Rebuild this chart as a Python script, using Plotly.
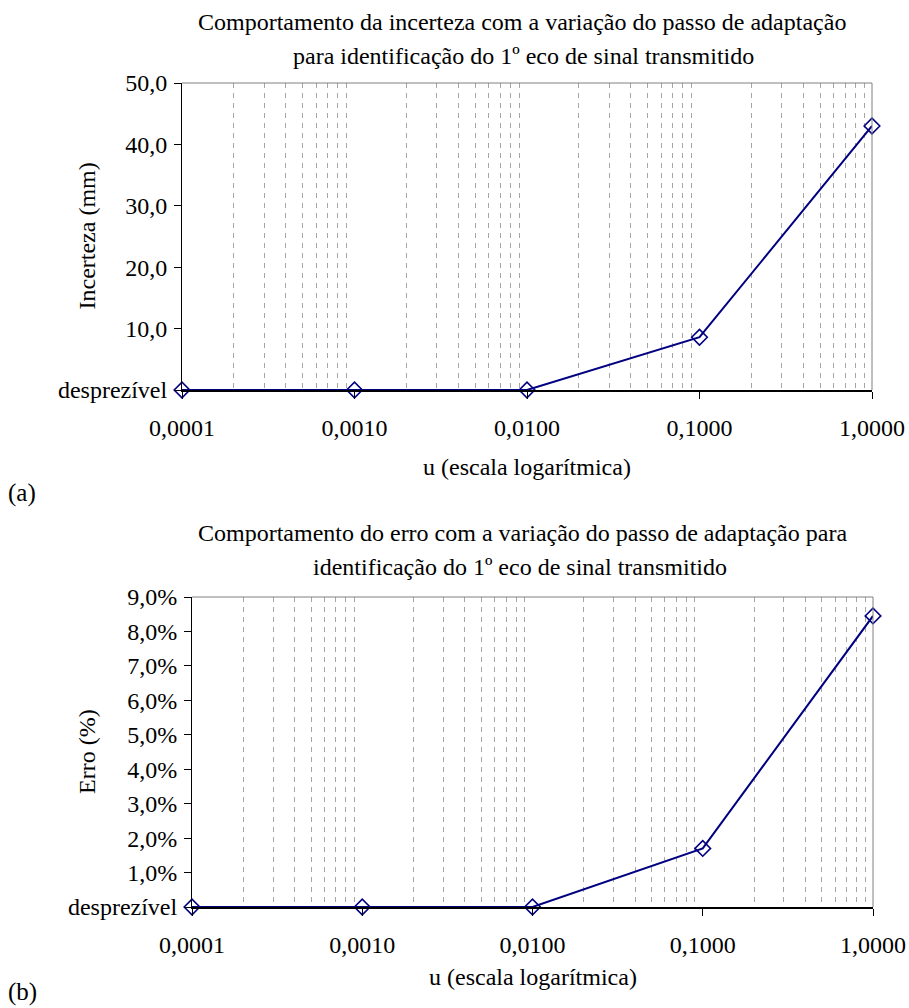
import plotly.graph_objects as go

# ---- data ----
u_values = [0.0001, 0.001, 0.01, 0.1, 1.0]
x_tick_vals = [0.0001, 0.001, 0.01, 0.1, 1.0]
x_tick_text = ["0,0001", "0,0010", "0,0100", "0,1000", "1,0000"]

incerteza_mm = [0.0, 0.0, 0.0, 8.6, 43.0]
inc_tick_vals = [0, 10, 20, 30, 40, 50]
inc_tick_text = ["desprezível", "10,0", "20,0", "30,0", "40,0", "50,0"]

erro_pct = [0.0, 0.0, 0.0, 1.7, 8.45]
erro_tick_vals = [0, 1, 2, 3, 4, 5, 6, 7, 8, 9]
erro_tick_text = ["desprezível", "1,0%", "2,0%", "3,0%", "4,0%", "5,0%",
                  "6,0%", "7,0%", "8,0%", "9,0%"]

title_a = ["Comportamento da incerteza com a variação do passo de adaptação",
           "para identificação do 1º eco de sinal transmitido"]
title_b = ["Comportamento do erro com a variação do passo de adaptação para",
           "identificação do 1º eco de sinal transmitido"]
xlabel = "u (escala logarítmica)"
ylabel_a = "Incerteza (mm)"
ylabel_b = "Erro (%)"

# ---- layout geometry ----
W, H = 909, 1008
FONT = "Liberation Serif, Times New Roman, serif"
NAVY = "#000080"
TICK_SIZE = 24
TEXT_SIZE = 24


def px_x(p):
    return p / W


def px_y(p):
    return 1 - p / H


minor_vals = [k * 10 ** e for e in range(-4, 0) for k in range(2, 10)]

fig = go.Figure()

for yv, xa, ya in ((incerteza_mm, "x", "y"), (erro_pct, "x2", "y2")):
    fig.add_trace(go.Scatter(x=u_values, y=yv, mode="lines+markers",
                             line=dict(color=NAVY, width=2),
                             marker=dict(symbol="diamond-open", size=12, color=NAVY,
                                         line=dict(width=1.6, color=NAVY)),
                             xaxis=xa, yaxis=ya, showlegend=False, cliponaxis=False))


def xaxis_cfg(left, right, anchor):
    return dict(type="log", range=[-4, 0], domain=[px_x(left), px_x(right)],
                anchor=anchor, tickvals=x_tick_vals, ticktext=x_tick_text,
                ticks="outside", ticklen=7, tickcolor="black", tickwidth=1,
                showline=True, linecolor="black", linewidth=2,
                showgrid=False, zeroline=False,
                ticklabelstandoff=8,
                tickfont=dict(family=FONT, size=TICK_SIZE, color="black"),
                minor=dict(tickvals=minor_vals, showgrid=True, griddash="5px,5px",
                           gridcolor="#a6a6a6", gridwidth=1, ticks=""))


def yaxis_cfg(top, bottom, anchor, rng, tv, tt):
    return dict(range=rng, domain=[px_y(bottom), px_y(top)], anchor=anchor,
                tickvals=tv, ticktext=tt, ticks="outside", ticklen=7,
                tickcolor="black", showline=True, linecolor="black", linewidth=1,
                showgrid=False, zeroline=False, ticklabelstandoff=2,
                tickfont=dict(family=FONT, size=TICK_SIZE, color="black"))


A = dict(l=182, r=872, t=83, b=390)
B = dict(l=192, r=873, t=597, b=907)

fig.update_layout(
    width=W, height=H, margin=dict(l=0, r=0, t=0, b=0, autoexpand=False),
    paper_bgcolor="white", plot_bgcolor="white",
    xaxis=xaxis_cfg(A["l"], A["r"], "y"),
    yaxis=yaxis_cfg(A["t"], A["b"], "x", [0, 50], inc_tick_vals, inc_tick_text),
    xaxis2=xaxis_cfg(B["l"], B["r"], "y2"),
    yaxis2=yaxis_cfg(B["t"], B["b"], "x2", [0, 9], erro_tick_vals, erro_tick_text),
)

# top and right frame lines (grey)
for xr, yr in (("x", "y"), ("x2", "y2")):
    fig.add_shape(type="line", xref=f"{xr} domain", yref=f"{yr} domain",
                  x0=0, x1=1, y0=1, y1=1, line=dict(color="#808080", width=1))
    fig.add_shape(type="line", xref=f"{xr} domain", yref=f"{yr} domain",
                  x0=1, x1=1, y0=0, y1=1, line=dict(color="#808080", width=1))


def text(t, x, y, size=TEXT_SIZE, angle=0, xanchor="center"):
    fig.add_annotation(text=t, xref="paper", yref="paper", x=px_x(x), y=px_y(y),
                       xanchor=xanchor, yanchor="middle", showarrow=False,
                       textangle=angle, font=dict(family=FONT, size=size, color="black"))


# titles (two lines each)
text(title_a[0], 522, 22)
text(title_a[1], 523, 56)
text(title_b[0], 522, 533)
text(title_b[1], 520, 567)

# axis titles
text(xlabel, (A["l"] + A["r"]) / 2, 467)
text(xlabel, (B["l"] + B["r"]) / 2, 977)
text(ylabel_a, 87, (A["t"] + A["b"]) / 2, angle=-90)
text(ylabel_b, 87, (B["t"] + B["b"]) / 2, angle=-90)

# panel labels
text("(a)", 6, 493, size=25, xanchor="left")
text("(b)", 6, 992, size=25, xanchor="left")

fig.write_html("out.html", config={"displayModeBar": False},
               post_script="document.body.style.margin='0px';document.body.style.overflow='hidden';")
